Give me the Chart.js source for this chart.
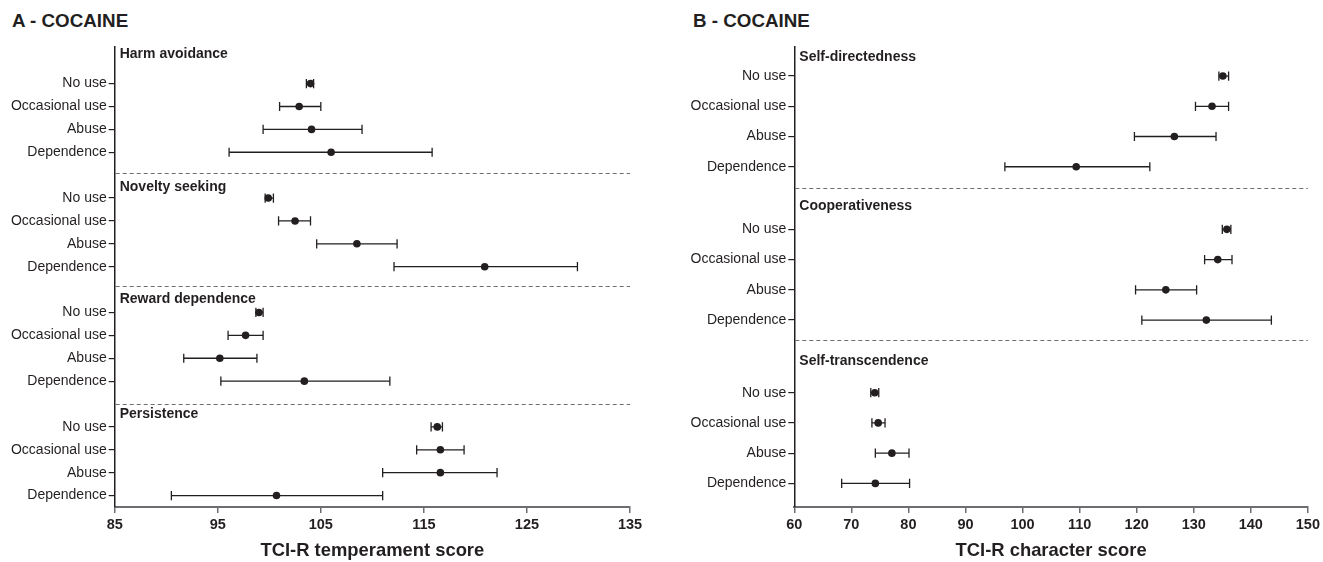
<!DOCTYPE html>
<html>
<head>
<meta charset="utf-8">
<script src="https://cdn.jsdelivr.net/npm/chart.js@4.4.1/dist/chart.umd.min.js"></script>
<style>
  html, body { margin: 0; padding: 0; background: #fff; }
  body { width: 1323px; height: 562px; position: relative; overflow: hidden;
         font-family: "Liberation Sans", Arial, sans-serif; }
  .panel { position: absolute; top: 0; height: 562px; }
  .heading { position: absolute; top: 10px; font: bold 18.8px/21px "Liberation Sans", Arial, sans-serif;
             color: #231f20; white-space: nowrap; }
</style>
</head>
<body>
<div class="heading" style="left:12px">A - COCAINE</div>
<div class="heading" style="left:693px">B - COCAINE</div>
<div class="panel" style="left:0;width:660px"><canvas id="temperament" width="660" height="562"></canvas></div>
<div class="panel" style="left:660px;width:663px"><canvas id="character" width="663" height="562"></canvas></div>

<script>
// Cocaine-use groups shown in every subscale block
const useGroups = ['No use', 'Occasional use', 'Abuse', 'Dependence'];

// Panel A: TCI-R temperament subscales (mean with 95% CI)
const temperamentScales = ['Harm avoidance', 'Novelty seeking', 'Reward dependence', 'Persistence'];
const temperamentMean = [
  [104.0, 102.9, 104.1, 106.0],
  [99.9, 102.5, 108.5, 120.9],
  [99.0, 97.7, 95.2, 103.4],
  [116.3, 116.6, 116.6, 100.7]
];
const temperamentLow = [
  [103.6, 101.0, 99.4, 96.1],
  [99.6, 100.9, 104.6, 112.1],
  [98.7, 96.0, 91.7, 95.3],
  [115.7, 114.3, 111.0, 90.5]
];
const temperamentHigh = [
  [104.3, 105.0, 109.0, 115.8],
  [100.4, 104.0, 112.4, 129.9],
  [99.4, 99.4, 98.8, 111.7],
  [116.8, 118.9, 122.1, 111.0]
];
const temperamentTicks = [85, 95, 105, 115, 125, 135];

// Panel B: TCI-R character subscales (mean with 95% CI)
const characterScales = ['Self-directedness', 'Cooperativeness', 'Self-transcendence'];
const characterMean = [
  [135.1, 133.2, 126.6, 109.4],
  [135.8, 134.2, 125.1, 132.2],
  [74.1, 74.7, 77.1, 74.2]
];
const characterLow = [
  [134.4, 130.3, 119.6, 96.9],
  [135.0, 131.9, 119.8, 120.9],
  [73.4, 73.6, 74.2, 68.3]
];
const characterHigh = [
  [136.1, 136.1, 133.9, 122.3],
  [136.5, 136.7, 130.5, 143.6],
  [74.8, 75.9, 80.1, 80.2]
];
const characterTicks = [60, 70, 80, 90, 100, 110, 120, 130, 140, 150];

const FONT = '"Liberation Sans", Arial, sans-serif';
const INK = '#231f20';
const AXIS_GREY = '#6d6e71';

// Draws the dashed block separators and the bold subscale names
const blockDecor = {
  id: 'blockDecor',
  beforeDatasetsDraw(chart, args, o) {
    const { ctx, chartArea, scales } = chart;
    const y = scales.y;
    ctx.save();
    ctx.strokeStyle = AXIS_GREY;
    ctx.lineWidth = 1;
    ctx.setLineDash([4, 3]);
    o.dividers.forEach(v => {
      const py = Math.round(y.getPixelForValue(v)) + 0.5;
      ctx.beginPath();
      ctx.moveTo(chartArea.left + 1, py);
      ctx.lineTo(chartArea.right, py);
      ctx.stroke();
    });
    ctx.setLineDash([]);
    ctx.fillStyle = INK;
    ctx.font = 'bold 14px ' + FONT;
    ctx.textAlign = 'left';
    ctx.textBaseline = 'middle';
    o.names.forEach((name, i) => {
      ctx.fillText(name, chartArea.left + 5, y.getPixelForValue(o.namePos[i]));
    });
    ctx.restore();
  }
};

function buildPanel(canvasId, cfg) {
  const rowPos = [];
  const rowLabels = [];
  const means = [];
  const bars = [];
  cfg.names.forEach((name, g) => {
    useGroups.forEach((grp, r) => {
      const pos = cfg.blockStart[g] + r;
      rowPos.push(pos);
      rowLabels.push(grp);
      means.push({ x: cfg.mean[g][r], y: pos });
      bars.push({ x: cfg.low[g][r], y: pos });
      bars.push({ x: cfg.high[g][r], y: pos });
      bars.push({ x: null, y: null });
    });
  });

  return new Chart(document.getElementById(canvasId), {
    type: 'scatter',
    data: {
      datasets: [
        {
          label: 'Mean',
          data: means,
          pointRadius: 3.8,
          pointBackgroundColor: INK,
          pointBorderWidth: 0,
          order: 0
        },
        {
          label: '95% CI',
          data: bars,
          showLine: true,
          spanGaps: false,
          borderColor: INK,
          borderWidth: 1.3,
          pointStyle: 'line',
          rotation: 90,
          pointRadius: 4.6,
          pointBorderColor: INK,
          pointBorderWidth: 1.3,
          order: 1
        }
      ]
    },
    options: {
      responsive: false,
      animation: false,
      devicePixelRatio: 1,
      events: [],
      layout: { padding: { left: 0, right: cfg.padRight, top: 47, bottom: 0 } },
      plugins: {
        legend: { display: false },
        tooltip: { enabled: false },
        blockDecor: { dividers: cfg.dividers, names: cfg.names, namePos: cfg.namePos }
      },
      scales: {
        x: {
          type: 'linear',
          min: cfg.ticks[0],
          max: cfg.ticks[cfg.ticks.length - 1],
          afterBuildTicks: s => { s.ticks = cfg.ticks.map(v => ({ value: v })); },
          afterFit: s => { s.height = 55; },
          ticks: { color: INK, padding: 3, maxRotation: 0, autoSkip: false,
                   font: { family: FONT, size: 14.5, weight: 'bold' } },
          grid: { drawOnChartArea: false, drawTicks: true, tickLength: 6, color: AXIS_GREY, lineWidth: 1.5 },
          border: { display: true, color: AXIS_GREY, width: 2 },
          title: { display: true, text: cfg.title, color: INK, padding: { top: 0, bottom: 0 },
                   font: { family: FONT, size: 18.4, weight: 'bold' } }
        },
        y: {
          type: 'linear',
          reverse: true,
          min: cfg.yRange[0],
          max: cfg.yRange[1],
          afterBuildTicks: s => { s.ticks = rowPos.map(v => ({ value: v })); },
          afterFit: s => { s.width = cfg.axisWidth; },
          ticks: { color: INK, padding: 2, autoSkip: false,
                   font: { family: FONT, size: 14 },
                   callback: (v, i) => rowLabels[i] },
          grid: { drawOnChartArea: false, drawTicks: true, tickLength: 6, color: INK, lineWidth: 1.2 },
          border: { display: true, color: INK, width: 1.5 }
        }
      }
    },
    plugins: [blockDecor]
  });
}

buildPanel('temperament', {
  names: temperamentScales,
  mean: temperamentMean, low: temperamentLow, high: temperamentHigh,
  ticks: temperamentTicks,
  title: 'TCI-R temperament score',
  blockStart: [0, 5, 10, 15],
  yRange: [-1.6, 18.5],
  dividers: [3.9, 8.85, 13.98],
  namePos: [-1.3, 4.52, 9.42, 14.45],
  axisWidth: 114.7,
  padRight: 30
});

buildPanel('character', {
  names: characterScales,
  mean: characterMean, low: characterLow, high: characterHigh,
  ticks: characterTicks,
  title: 'TCI-R character score',
  blockStart: [0, 5.07, 10.47],
  yRange: [-0.96, 14.25],
  dividers: [3.69, 8.73],
  namePos: [-0.64, 4.3, 9.44],
  axisWidth: 134.3,
  padRight: 13
});
</script>
</body>
</html>
